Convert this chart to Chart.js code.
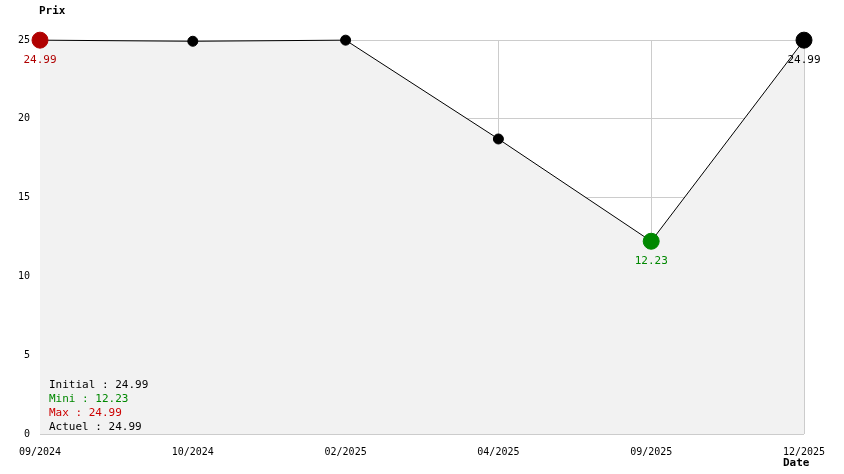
<!DOCTYPE html>
<html><head><meta charset="utf-8">
<script src="https://cdn.jsdelivr.net/npm/chart.js"></script>
<style>body{margin:0;background:#fff}#wrap{width:844px;height:474px}</style>
</head><body><div id="wrap"><canvas id="c"></canvas></div>
<script>
var dates = ['09/2024', '10/2024', '02/2025', '04/2025', '09/2025', '12/2025'];
var prices = [24.99, 24.92, 24.99, 18.72, 12.23, 24.99];
var pointColors = ['#b00000', '#000', '#000', '#000', '#008800', '#000'];
var pointSizes = [8, 5, 5, 5, 8, 8];
var legendLines = [['Initial : 24.99', '#000'], ['Mini : 12.23', '#008800'], ['Max : 24.99', '#cc0000'], ['Actuel : 24.99', '#000']];
var FONT = '11px "DejaVu Sans Mono", monospace';

var extras = {
  id: 'extras',
  afterDatasetsDraw: function(chart) {
    var ctx = chart.ctx, meta = chart.getDatasetMeta(0);
    ctx.save();
    ctx.font = FONT; ctx.textAlign = 'center'; ctx.textBaseline = 'top';
    [[0, '#b00000'], [4, '#008800'], [5, '#000']].forEach(function(p) {
      var el = meta.data[p[0]];
      ctx.fillStyle = p[1];
      ctx.fillText(prices[p[0]].toFixed(2), el.x, el.y + 14);
    });
    ctx.textAlign = 'left';
    legendLines.forEach(function(l, i) {
      ctx.fillStyle = l[1];
      ctx.fillText(l[0], 49, 380 + i * 14);
    });
    ctx.fillStyle = '#000';
    ctx.font = 'bold 11px "DejaVu Sans Mono", monospace';
    ctx.fillText('Prix', 39, 6);
    ctx.fillText('Date', 783, 458);
    ctx.restore();
  }
};

new Chart(document.getElementById('c'), {
  type: 'line',
  data: {
    labels: dates,
    datasets: [{
      data: prices,
      borderColor: '#000', borderWidth: 1,
      backgroundColor: '#f2f2f2', fill: 'origin',
      pointBackgroundColor: pointColors, pointBorderColor: pointColors,
      pointRadius: pointSizes, tension: 0, clip: false
    }]
  },
  options: {
    responsive: true, maintainAspectRatio: false, animation: false,
    layout: { padding: { top: 40, right: 40, left: 0, bottom: 0 } },
    plugins: { legend: { display: false }, tooltip: { enabled: false } },
    scales: {
      x: {
        offset: false,
        afterFit: function(s) { s.height = 40; },
        grid: { color: '#cccccc', drawTicks: false },
        border: { display: false },
        ticks: { font: { family: 'DejaVu Sans Mono', size: 10 }, color: '#000', padding: 12, maxRotation: 0 }
      },
      y: {
        min: 0, max: 25,
        afterFit: function(s) { s.width = 40; },
        grid: { color: '#cccccc', drawTicks: false },
        border: { display: false },
        ticks: { stepSize: 5, font: { family: 'DejaVu Sans Mono', size: 10 }, color: '#000', padding: 10 }
      }
    }
  },
  plugins: [extras]
});
</script></body></html>
